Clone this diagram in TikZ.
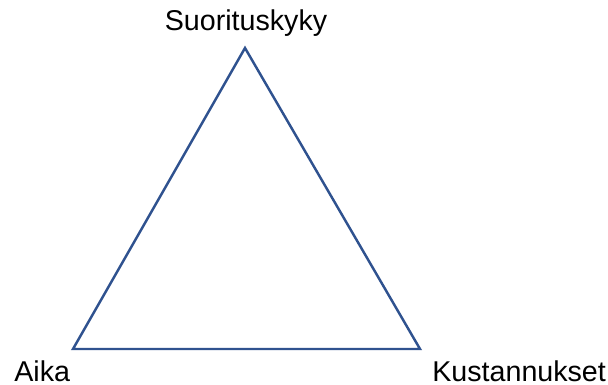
\documentclass[tikz,border=0pt]{standalone}
\usepackage{fontspec}
\setmainfont{Liberation Sans}
\definecolor{edgeblue}{HTML}{2F528F}

\begin{document}
\begin{tikzpicture}[
  x=0.02cm, y=-0.02cm,
  font=\fontsize{16.3}{19}\selectfont,
  side/.style={draw=edgeblue, line width=1.4pt, line join=miter},
  lbl/.style={inner sep=0pt, anchor=base},
]
  \useasboundingbox (0,0) rectangle (608,385);

  % corners of the triangle
  \coordinate (top)   at (245,48);
  \coordinate (left)  at (73,349);
  \coordinate (right) at (420,349);

  \draw[side] (top) -- (right) -- (left) -- cycle;

  % labels
  \node[lbl] (perf) at (246,31) {Suorituskyky};
  \node[lbl, anchor=base west] (time) at (14,381) {Aika};
  \node[lbl, anchor=base west] (cost) at (432,381) {Kustannukset};
\end{tikzpicture}
\end{document}
